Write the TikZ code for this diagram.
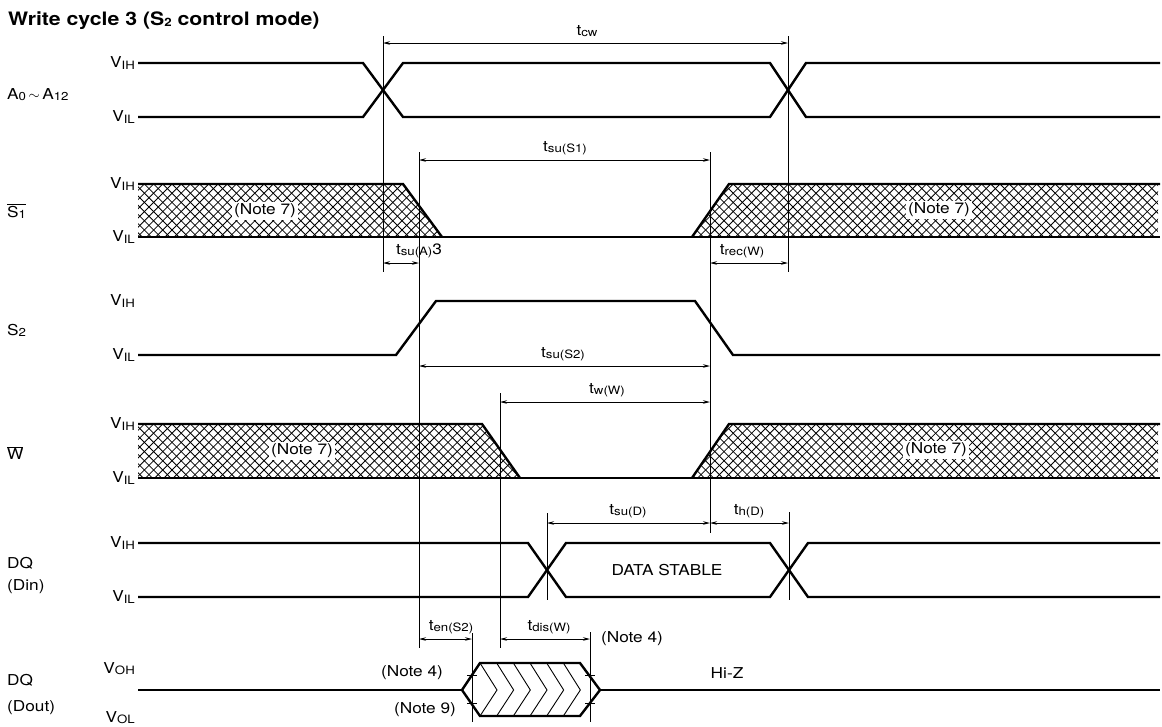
\documentclass[tikz,border=0pt]{standalone}
\usepackage{fontspec}
\setmainfont{TeX Gyre Heros}[FakeStretch=1.15]
\usetikzlibrary{arrows.meta}          % tips
\newcommand{\lowsub}[1]{\raisebox{-1.2pt}{\fontsize{11.5}{12}\selectfont #1}}

\begin{document}
\begin{tikzpicture}[x=1pt,y=-1pt,
                    every node/.style={font=\fontsize{15}{18}\selectfont, inner sep=0pt}
                    ]
                % define styles
\tikzset{wave/.style={draw=black,
                      line width=2.4pt,
                      },
         guide/.style={draw=black,
                       line width=0.7pt,
                       },
         dim/.style={draw=black,
                     line width=0.8pt,
                     {Stealth[length=7pt,width=3.5pt]}-{Stealth[length=7pt,width=3.5pt]},
                     },
         hatchline/.style={draw=black,
                           line width=0.8pt,
                           },
         chev/.style={draw=black,
                      line width=0.9pt,
                      },
         note/.style={fill=white,
                      inner sep=2pt,
                      },
         level/.style={anchor=east},
         signal/.style={anchor=west}
}

\useasboundingbox (0,0) rectangle (1162,726);

% title
\node[anchor=base west, font=\bfseries\fontsize{18.5}{20}\selectfont] (title) at (8,25)
    {Write cycle 3 (S\lowsub{2} control mode)};

% signal names
\node[signal] (sigA)    at (7,95)  {A\lowsub{0}\,$\sim$\,A\lowsub{12}};
\node[signal] (sigS1)   at (7,211) {$\overline{\mbox{S\lowsub{1}}}$};
\node[signal] (sigS2)   at (7,330) {S\lowsub{2}};
\node[signal] (sigW)    at (7,453) {$\overline{\mbox{W}}$};
\node[signal] (sigDQi)  at (7,563) {DQ};
\node[signal] (sigDin)  at (7,587) {(Din)};
\node[signal] (sigDQo)  at (7,680) {DQ};
\node[signal] (sigDout) at (7,708) {(Dout)};

% levels
\foreach \name/\y/\lab in {aH/63/IH, aL/117/IL, sH/184/IH, sL/237/IL,
                           cH/301/IH, cL/355/IL, wH/424/IH, wL/478/IL,
                           dH/543/IH, dL/597/IL, oH/669/OH, oL/718/OL}
    \node[level] (v-\name) at (135,\y) {V\lowsub{\lab}};

% hatched don't care areas
\begin{scope}
    \clip (138,184) -- (403,184) -- (442,237) -- (138,237) -- cycle
          (692,237) -- (729,184) -- (1158,184) -- (1158,237) -- cycle
          (138,424) -- (482,424) -- (520,478) -- (138,478) -- cycle
          (692,478) -- (729,424) -- (1158,424) -- (1158,478) -- cycle;
    \foreach \top in {184,424}
        \foreach \s in {80,89.2,...,1220}
        {
            \draw[hatchline] (\s,\top) -- ++(56,56);
            \draw[hatchline] (\s,\top) -- ++(-56,56);
        }
\end{scope}

% waveforms
\draw[wave] (138,63) -- (363,63) -- (403,117) -- (770,117) -- (806,63) -- (1160,63);
\draw[wave] (138,117) -- (363,117) -- (403,63) -- (770,63) -- (806,117) -- (1160,117);

\draw[wave] (138,237) -- (1160,237);
\draw[wave] (138,184) -- (403,184) -- (442,237);
\draw[wave] (692,237) -- (729,184) -- (1160,184);

\draw[wave] (138,355) -- (396,355) -- (436,301) -- (695,301) -- (733,355) -- (1160,355);

\draw[wave] (138,478) -- (1160,478);
\draw[wave] (138,424) -- (482,424) -- (520,478);
\draw[wave] (692,478) -- (729,424) -- (1160,424);

\draw[wave] (138,543) -- (528,543) -- (566,597) -- (770,597) -- (808,543) -- (1160,543);
\draw[wave] (138,597) -- (528,597) -- (566,543) -- (770,543) -- (808,597) -- (1160,597);

\draw[wave] (138,690) -- (462,690);
\draw[wave] (600,690) -- (1160,690);
\begin{scope}
    \clip (462,690) -- (480,663) -- (580,663) -- (600,690) -- (580,716) -- (480,716) -- cycle;
    \foreach \k in {0,...,5}
        \draw[chev] (480+\k*16.67,663) -- ++(17,27) -- ++(-17,26);
\end{scope}
\draw[wave] (462,690) -- (480,663) -- (580,663) -- (600,690) -- (580,716) -- (480,716) -- cycle;

% guide lines
\foreach \x/\ya/\yb in {383/36/272, 788/36/272, 419/152/648, 710/152/533,
                        500/393/648, 547/513/600, 789/512/600, 472/633/722, 590/632/722}
    \draw[guide] (\x,\ya) -- (\x,\yb);

% ticks on the hexagon
\foreach \x/\y in {472/675, 472/703, 590/675, 590/703}
    \draw[guide] (\x-5,\y) -- (\x+5,\y);

% timing arrows and their labels
\foreach \name/\xa/\xb/\y/\lx/\lab in {cw/383/788/43/587/{t\lowsub{cw}},
                                      suS1/419/710/160/565/{t\lowsub{su(S1)}},
                                      suA/383/419/263/419/{t\lowsub{su(A)}3},
                                      rec/710/788/263/742/{t\lowsub{rec(W)}},
                                      suS2/419/710/366/563/{t\lowsub{su(S2)}},
                                      wW/500/710/402/607/{t\lowsub{w(W)}},
                                      suD/547/710/523/628/{t\lowsub{su(D)}},
                                      hD/710/789/523/749/{t\lowsub{h(D)}},
                                      en/419/472/639/451/{t\lowsub{en(S2)}},
                                      dis/500/590/639/549/{t\lowsub{dis(W)}}}
{
    \draw[dim] (\xa,\y) -- (\xb,\y);
    \node (lab-\name) at (\lx,\y-12) {\lab};
}

% notes
\node[note] (n7a) at (265,211) {(Note 7)};
\node[note] (n7b) at (939,210) {(Note 7)};
\node[note] (n7c) at (302,451) {(Note 7)};
\node[note] (n7d) at (936,450) {(Note 7)};
\node (n4a)  at (412,673) {(Note 4)};
\node (n9)   at (425,710) {(Note 9)};
\node (n4b)  at (632,639) {(Note 4)};
\node (hiz)  at (727,673) {Hi-Z};
\node (data) at (667,570) {DATA STABLE};

\end{tikzpicture}
\end{document}
